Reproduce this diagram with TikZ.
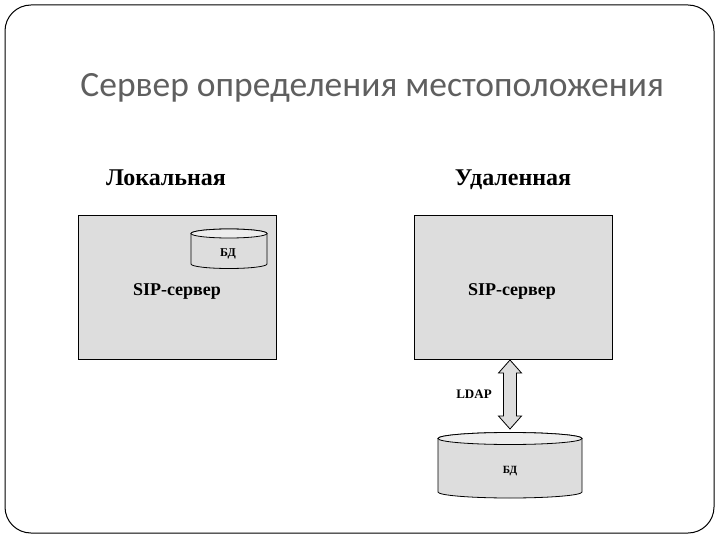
\documentclass[tikz,border=0pt]{standalone}
\usepackage{fontspec}
\setmainfont{Liberation Serif}
\newfontfamily\titlefont{Carlito}
\begin{document}
\begin{tikzpicture}[x=1pt,y=-1pt,line width=0.8pt,
  srvbox/.style={draw=black,fill=boxgray},
  hdr/.style={font=\bfseries\fontsize{24}{28}\selectfont,inner sep=0pt,anchor=base},
  lbl/.style={font=\bfseries\fontsize{18}{20}\selectfont,inner sep=0pt,anchor=base}]
\definecolor{boxgray}{HTML}{DDDDDD}
\definecolor{topgray}{HTML}{EDEDED}
\definecolor{titlegray}{HTML}{5F5F5F}
\useasboundingbox (0,0) rectangle (720,540);
% frame
\draw[line width=1pt,rounded corners=26pt] (5,5) rectangle (714,533);
% title
\node[font=\titlefont\fontsize{35.5}{40}\selectfont,text=titlegray,anchor=base west,inner sep=0pt] (title) at (80,97) {Сервер определения местоположения};
% headers
\node[hdr] (loc) at (166,186) {Локальная};
\node[hdr] (rem) at (513,186) {Удаленная};
% boxes
\draw[srvbox] (78,215) rectangle (276,359);
\draw[srvbox] (414,215) rectangle (612,359);
\node[lbl] (lsip) at (177,295) {SIP-сервер};
\node[lbl] (rsip) at (512,295) {SIP-сервер};
% small cylinder
\draw[fill=boxgray] (191,233.5) -- (191,264) arc[start angle=180,end angle=0,x radius=38,y radius=4.5] -- (267,233.5) arc[start angle=0,end angle=-180,x radius=38,y radius=4.5] -- cycle;
\draw[fill=topgray] (229,233.5) ellipse[x radius=38,y radius=4.5];
\node[font=\bfseries\fontsize{12}{14}\selectfont,inner sep=0pt,anchor=base] (sdb) at (228,256) {БД};
% big cylinder
\draw[fill=boxgray] (438,438.5) -- (438,492) arc[start angle=180,end angle=0,x radius=72,y radius=6] -- (582,438.5) arc[start angle=0,end angle=-180,x radius=72,y radius=6] -- cycle;
\draw[fill=topgray] (510,438.5) ellipse[x radius=72,y radius=6];
\node[font=\bfseries\fontsize{11}{13}\selectfont,inner sep=0pt,anchor=base] (bdb) at (510,473) {БД};
% double arrow
\draw[fill=boxgray,line width=0.8pt] (510,360) -- (521.5,373) -- (516.5,373) -- (516.5,416) -- (521.5,416) -- (510,429) -- (498.5,416) -- (503.5,416) -- (503.5,373) -- (498.5,373) -- cycle;
\node[font=\bfseries\fontsize{13}{15}\selectfont,inner sep=0pt,anchor=base] (ldap) at (474,398) {LDAP};
\end{tikzpicture}
\end{document}
